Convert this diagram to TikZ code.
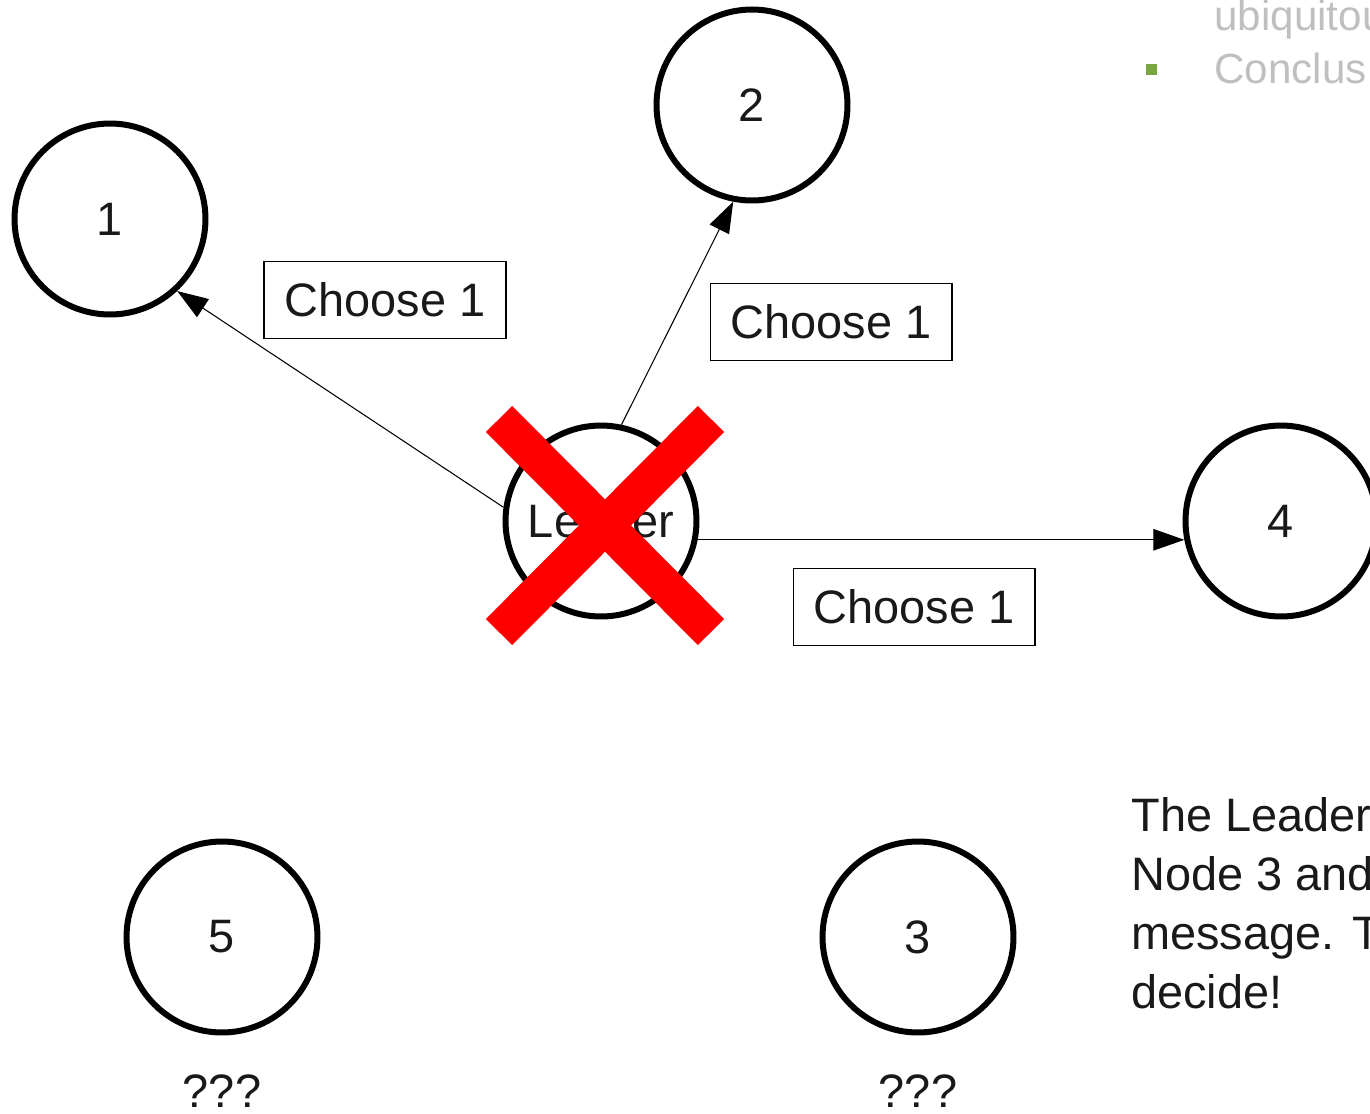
\documentclass[tikz,border=0pt]{standalone}
\usepackage{fontspec}
\setmainfont{Liberation Sans}
\usetikzlibrary{arrows.meta}
\definecolor{slidegrey}{RGB}{191,191,191}
\definecolor{bulletgreen}{RGB}{122,166,66}
\begin{document}
\begin{tikzpicture}[x=0.02cm, y=-0.02cm,
    every node/.style={font=\fontsize{26.7}{33.5}\selectfont, text=black!90},
    peer/.style={circle, draw, line width=0.12cm, minimum size=3.82cm, inner sep=0pt},
    msg/.style={draw, line width=0.6pt, minimum width=4.84cm, minimum height=1.54cm, inner sep=0pt},
    send/.style={-{Triangle[length=0.62cm, width=0.43cm]}, line width=0.6pt},
    slidetext/.style={anchor=base west, inner sep=0pt, text=slidegrey, font=\fontsize{24}{30}\selectfont}]
    % Page frame (picture is cut at the right edge)
    \clip (0,0) rectangle (1370,1113);

    % Leftover slide text, top right
    \fill[bulletgreen] (1145.5,64) rectangle (1156.5,75);
    \node[slidetext] (ubi) at (1214,30) {ubiquitou};
    \node[slidetext] (concl) at (1214,83) {Conclus};

    % Nodes
    \node[peer] (lead) at (601,521) {Leader};
    \node[peer] (n1) at (110,219) {1};
    \node[peer] (n2) at (752,105) {2};
    \node[peer] (n4) at (1281,521) {4};
    \node[peer] (n5) at (222,937) {5};
    \node[peer] (n3) at (918,937) {3};

    % Messages sent before the crash
    \draw[send] (lead.172) -- (n1.-47);
    \draw[send] (lead.78) -- (n2.-101);
    \draw[send] (lead.-11) -- (n4.191);
    \node[msg] (m1) at (385,300) {Choose 1};
    \node[msg] (m2) at (831,322) {Choose 1};
    \node[msg] (m4) at (914,607) {Choose 1};

    % Nodes that got nothing
    \node[anchor=base] (q5) at (222,1107) {???};
    \node[anchor=base] (q3) at (918,1107) {???};

    % Note
    \node[anchor=base west, align=left, inner sep=0pt] (note) at (1131,1008)
        {The Leader\\Node 3 and\\message. T\\decide!};

    % Leader crashes
    \draw[red, line width=0.74cm] (499,419) -- (711,632);
    \draw[red, line width=0.74cm] (711,419) -- (499,632);
\end{tikzpicture}
\end{document}
